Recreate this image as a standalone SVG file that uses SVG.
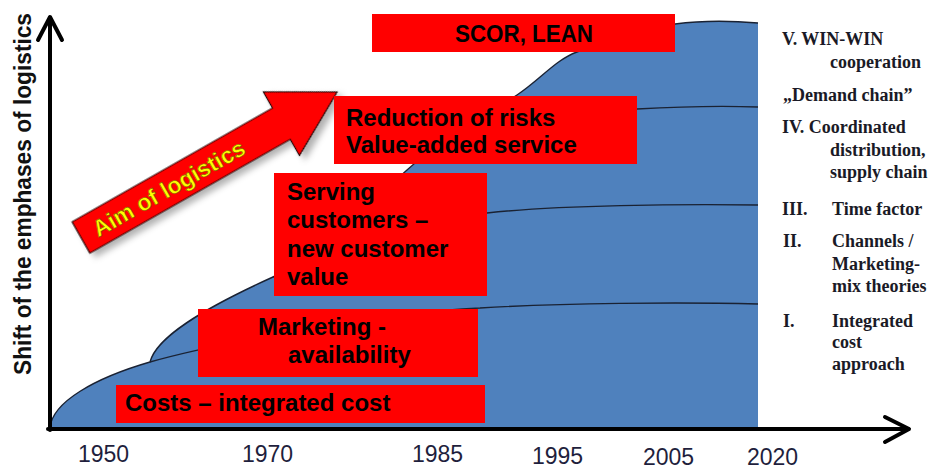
<svg xmlns="http://www.w3.org/2000/svg" width="937" height="471" viewBox="0 0 937 471">
<defs>
<filter id="sh" x="-20%" y="-20%" width="140%" height="160%">
<feDropShadow dx="3" dy="6" stdDeviation="3" flood-color="#000" flood-opacity="0.3"/>
</filter>
<style>
.box{fill:#ff0000}
.bt{font-family:"Liberation Sans",Arial,sans-serif;font-weight:bold;font-size:24px;fill:#000}
.yr{font-family:"Liberation Sans",Arial,sans-serif;font-size:23px;fill:#1f1f3d}
.rt{font-family:"Liberation Serif","Times New Roman",serif;font-weight:bold;font-size:18px;fill:#1a1a26}
.ln{fill:none;stroke:#1a2233;stroke-width:1.4}
.ax{fill:none;stroke:#000;stroke-width:4;stroke-linecap:round;stroke-linejoin:round}
</style>
</defs>
<rect width="937" height="471" fill="#fff"/>
<g id="area">
<path d="M50,428 C52,402 95,378 150,362 C156,338 200,310 273,277 C330,258 375,198 407,170 C440,140 480,118 517,95 C540,80 555,60 577,52 C610,38 640,28 675,24 C705,20 735,21 758,23 L758,428 L50,428 Z" fill="#4f81bd"/>
<path class="ln" d="M50,428 C52,402 95,378 150,362 C156,338 200,310 273,277 C330,258 375,198 407,170 C440,140 480,118 517,95 C540,80 555,60 577,52 C610,38 640,28 675,24 C705,20 735,21 758,23"/>
<path class="ln" d="M150,362 C210,345 380,312 480,308 C560,303 680,302 758,304"/>
<path class="ln" d="M273,277 C330,240 420,220 487,213 C560,205 680,204 758,205"/>
<path class="ln" d="M420,163 C480,130 560,112 637,109 C690,106 730,106 758,107"/>
</g>
<g id="connectors">
<polyline class="ax" points="50,430 50,18"/>
<polyline class="ax" points="38,40 50,17 62,40"/>
<polyline class="ax" points="48,429 908,429"/>
<polyline class="ax" points="885,417 909,429 885,442"/>
</g>
<g id="axis-label">
<text transform="translate(31,194) rotate(-90)" text-anchor="middle" textLength="362" lengthAdjust="spacingAndGlyphs" style="font-family:'Liberation Sans',Arial,sans-serif;font-weight:bold;font-size:23px;fill:#111">Shift of the emphases of logistics</text>
</g>
<g id="years">
<text class="yr" x="78" y="462">1950</text>
<text class="yr" x="242" y="462">1970</text>
<text class="yr" x="412" y="462">1985</text>
<text class="yr" x="532" y="464">1995</text>
<text class="yr" x="643" y="465">2005</text>
<text class="yr" x="747" y="465">2020</text>
</g>
<g id="aim">
<g transform="translate(81,237.5) rotate(-29.6)">
<polygon points="0,-18 230.5,-18 230.5,-36.5 294.5,0 230.5,36.5 230.5,18 0,18" fill="#ff0000" stroke="#1a0000" stroke-width="1.2" filter="url(#sh)"/>
<text x="15" y="8.5" style="font-family:'Liberation Sans',Arial,sans-serif;font-weight:bold;font-size:23px;fill:#ffff00;stroke:#806000;stroke-width:0.6">Aim of logistics</text>
</g>
</g>
<g id="scor">
<rect class="box" x="372" y="14" width="303" height="38"/>
<text class="bt" x="455" y="42" textLength="138" lengthAdjust="spacingAndGlyphs">SCOR, LEAN</text>
</g>
<g id="reduction">
<rect class="box" x="334" y="96" width="303" height="68"/>
<text class="bt" x="346" y="126">Reduction of risks</text>
<text class="bt" x="346" y="153">Value-added service</text>
</g>
<g id="serving">
<rect class="box" x="274" y="173" width="213" height="123"/>
<text class="bt" x="287" y="200">Serving</text>
<text class="bt" x="287" y="228">customers –</text>
<text class="bt" x="287" y="257">new customer</text>
<text class="bt" x="287" y="285">value</text>
</g>
<g id="marketing">
<rect class="box" x="198" y="309" width="280" height="68"/>
<text class="bt" x="258" y="335">Marketing -</text>
<text class="bt" x="288" y="363">availability</text>
</g>
<g id="costs">
<rect class="box" x="116" y="385" width="369" height="38"/>
<text class="bt" x="125" y="411">Costs – integrated cost</text>
</g>
<g id="stages">
<text class="rt" x="782" y="45">V. WIN-WIN</text>
<text class="rt" x="830" y="68">cooperation</text>
<text class="rt" x="783" y="101">„Demand chain”</text>
<text class="rt" x="782" y="133">IV. Coordinated</text>
<text class="rt" x="830" y="156">distribution,</text>
<text class="rt" x="830" y="178">supply chain</text>
<text class="rt" x="782" y="215">III.</text>
<text class="rt" x="832" y="215">Time factor</text>
<text class="rt" x="783" y="247">II.</text>
<text class="rt" x="832" y="247">Channels /</text>
<text class="rt" x="832" y="270">Marketing-</text>
<text class="rt" x="832" y="292">mix theories</text>
<text class="rt" x="783" y="327">I.</text>
<text class="rt" x="832" y="327">Integrated</text>
<text class="rt" x="832" y="348">cost</text>
<text class="rt" x="832" y="370">approach</text>
</g>
</svg>
